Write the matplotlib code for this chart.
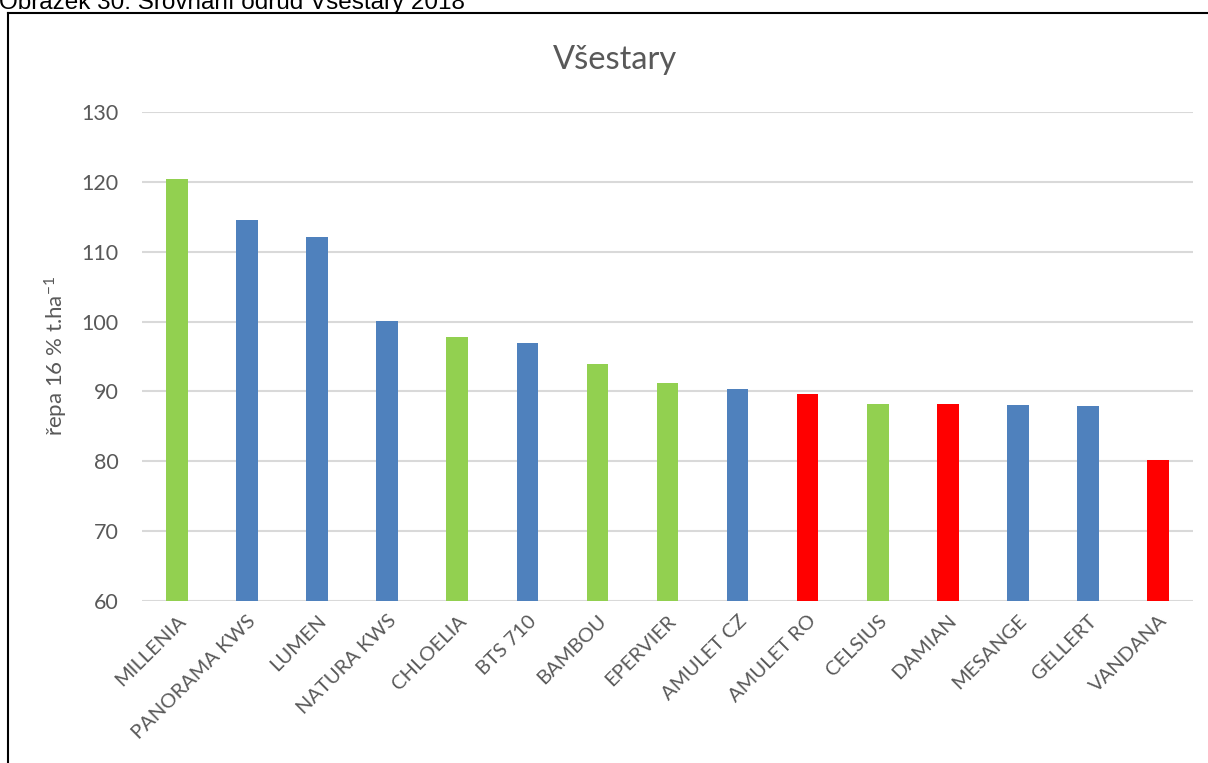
import matplotlib
matplotlib.use("Agg")
import matplotlib.pyplot as plt
from matplotlib.lines import Line2D

# Variety names, yields (t/ha, 16 % sugar beet) and colour group
varieties = ["MILLENIA", "PANORAMA KWS", "LUMEN", "NATURA KWS", "CHLOELIA",
             "BTS 710", "BAMBOU", "EPERVIER", "AMULET CZ", "AMULET RO",
             "CELSIUS", "DAMIAN", "MESANGE", "GELLERT", "VANDANA"]
yields = [120.4, 114.6, 112.1, 100.1, 97.8,
          97.0, 93.9, 91.2, 90.4, 89.6,
          88.2, 88.2, 88.1, 87.9, 80.2]
groups = ["g", "b", "b", "b", "g",
          "b", "g", "g", "b", "r",
          "g", "r", "b", "b", "r"]
yticks = [60, 70, 80, 90, 100, 110, 120, 130]

palette = {"g": "#92D050", "b": "#4F81BD", "r": "#FF0000"}
colors = [palette[g] for g in groups]

plt.rcParams["font.family"] = ["Lato", "DejaVu Sans"]
plt.rcParams["mathtext.default"] = "regular"

W, H = 1208, 763
fig = plt.figure(figsize=(W / 100, H / 100), dpi=100)

left, right, top, bottom = 142, 1193, 112, 601
ax = fig.add_axes([left / W, 1 - bottom / H, (right - left) / W, (bottom - top) / H])

x = list(range(len(varieties)))
ax.bar(x, yields, width=0.31, color=colors, zorder=3)

ax.set_xlim(-0.5, len(varieties) - 0.5)
ax.set_ylim(60, 130)
ax.set_yticks(yticks)
ax.set_yticklabels([str(t) for t in yticks])
ax.set_xticks(x)
ax.set_xticklabels(varieties, rotation=45, ha="right", va="top",
                   rotation_mode="anchor")

ax.grid(axis="y", color="#D9D9D9", linewidth=1.5, zorder=0)
for s in ax.spines.values():
    s.set_visible(False)
ax.tick_params(axis="both", length=0, labelcolor="#595959")
ax.tick_params(axis="y", pad=17, labelsize=15.5)
ax.tick_params(axis="x", pad=8, labelsize=14.5)

ax.set_ylabel("řepa 16 % t.ha$^{-1}$", fontsize=16, color="#595959")
ax.yaxis.set_label_coords((70 - left) / (right - left), 0.5)

fig.text(615 / W, 1 - 60 / H, "Všestary", fontsize=23.5, color="#595959",
         ha="center", va="center")

# Caption, partly cut by the top edge
fig.text(-1 / W, 1 - 9 / H, "Obrázek 30: Srovnání odrůd Všestary 2018",
         fontsize=17.5, family="Liberation Sans", color="black",
         ha="left", va="baseline")

# Chart frame
fig.add_artist(Line2D([8 / W, 8 / W], [1 - 13 / H, 0], color="black",
                      linewidth=1.5, transform=fig.transFigure))
fig.add_artist(Line2D([8 / W, 1], [1 - 13 / H, 1 - 13 / H], color="black",
                      linewidth=1.5, transform=fig.transFigure))

fig.savefig("out.png", dpi=100)
